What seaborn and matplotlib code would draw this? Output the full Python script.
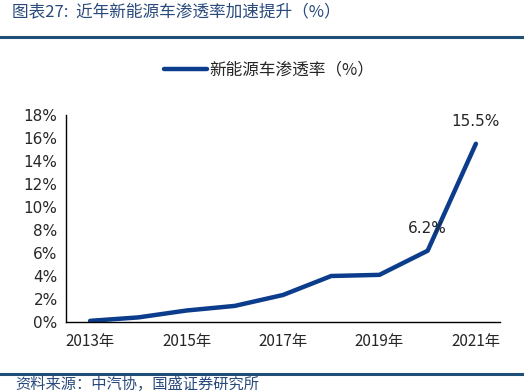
import numpy as np
import pandas as pd
import matplotlib
matplotlib.use("Agg")
import matplotlib.pyplot as plt
import seaborn as sns

# data
years = ["2013年", "2014年", "2015年", "2016年", "2017年", "2018年", "2019年", "2020年", "2021年"]
penetration = [0.1, 0.4, 1.0, 1.4, 2.35, 4.0, 4.1, 6.2, 15.5]
labelled = {7: "6.2%", 8: "15.5%"}

series_name = "新能源车渗透率（%）"
title_text = "图表27:  近年新能源车渗透率加速提升（%）"
source_text = "资料来源：中汽协，国盛证券研究所"

sns.set_style("white")
plt.rcParams["font.family"] = ["Noto Sans CJK SC", "DejaVu Sans"]

df = pd.DataFrame({"idx": np.arange(len(years)), "val": penetration, "s": series_name})

fig = plt.figure(figsize=(5.24, 3.92), dpi=100)
ax = fig.add_axes([66 / 524, 1 - 322 / 392, 434 / 524, 207 / 392])

navy = "#0c3c8c"
sns.lineplot(data=df, x="idx", y="val", hue="s", palette=[navy], linewidth=3.2, ax=ax)

ax.set_xlim(-0.5, len(years) - 0.5)
ax.set_ylim(0, 18)
ax.set_yticks(np.arange(0, 19, 2))
ax.set_yticklabels([f"{v}%" for v in range(0, 19, 2)], fontsize=11, family="DejaVu Sans")

# category boundaries as ticks, labels on every other year
ax.set_xticks(np.arange(-0.5, len(years), 1.0))
ax.set_xticklabels([])
ax.set_xticks(np.arange(0, len(years), 2), minor=True)
ax.set_xticklabels([years[i] for i in range(0, len(years), 2)], minor=True, fontsize=11)
ax.tick_params(axis="x", which="major", direction="in", length=5, width=1, color="black")
ax.tick_params(axis="x", which="minor", length=0, pad=8)
ax.tick_params(axis="y", direction="in", length=5, width=1, color="black", pad=6)
ax.set_xlabel("")
ax.set_ylabel("")

for s in ["top", "right"]:
    ax.spines[s].set_visible(False)
for s in ["left", "bottom"]:
    ax.spines[s].set_color("black")
    ax.spines[s].set_linewidth(1)

for i, txt in labelled.items():
    ax.annotate(txt, (i, penetration[i]), xytext=(0, 16),
                textcoords="offset points", ha="center", va="center",
                fontsize=11, family="DejaVu Sans")

leg = ax.legend(loc="center", bbox_to_anchor=((269 / 524 - 66 / 524) / (434 / 524), 1 + (322 - 70 - 207) / 207),
                frameon=False, fontsize=12, handlelength=2.6, handletextpad=0.1)
for line in leg.get_lines():
    line.set_linewidth(3.2)

# header and footer
fig.text(12 / 524, 1 - 13 / 392, title_text, fontsize=12, color="#2a4a7c", style="italic", va="center")
fig.add_artist(plt.Line2D([0, 1], [1 - 37 / 392] * 2, color="#1f4e79", linewidth=2.2))
fig.add_artist(plt.Line2D([0, 1], [1 - 374 / 392] * 2, color="#1f4e79", linewidth=2.2))
fig.text(15 / 524, 1 - 389 / 392, source_text, fontsize=11, color="#2a4a7c", style="italic", va="baseline")

fig.savefig("out.png", dpi=100)
